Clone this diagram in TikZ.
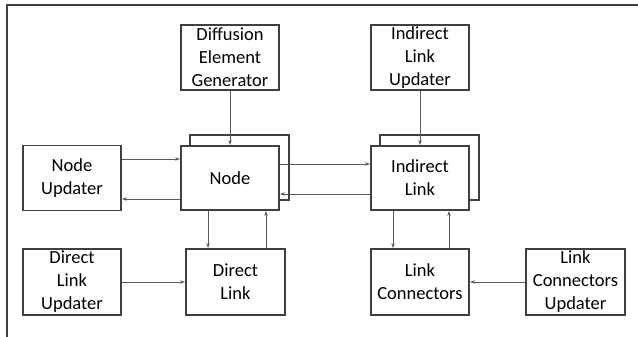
\documentclass[tikz,border=0pt]{standalone}
\usepackage{fontspec}
\setmainfont{Carlito}
\usetikzlibrary{arrows.meta}
\definecolor{boxc}{HTML}{404040}
\definecolor{arrc}{HTML}{5A5A5A}
\tikzset{
  box/.style={draw=boxc, line width=1.8pt, fill=white, minimum width=98pt, minimum height=65pt, align=center, inner sep=0pt, font=\fontsize{18.5}{23}\selectfont, text=black},
  backbox/.style={draw=boxc, line width=1.8pt, fill=white, minimum width=99pt, minimum height=65pt, inner sep=0pt},
  arr/.style={draw=arrc, line width=0.8pt, -{Stealth[length=5pt,width=3.5pt]}}
}
\begin{document}
\begin{tikzpicture}[x=1pt,y=-1pt]
\useasboundingbox (0,0) rectangle (638,337);
% frame
\draw[boxc, line width=2pt] (7,337) -- (7,5) -- (638,5);
% back boxes
\node[backbox] (ndback) at (239.5,167.5) {};
\node[backbox] (ilback) at (429.5,167.5) {};
% boxes
\node[box] (deg) at (230,57.5) {Diffusion\\Element\\Generator};
\node[box] (ilu) at (420,57.5) {Indirect\\Link\\Updater};
\node[box] (nu) at (72,178) {Node\\Updater};
\node[box, minimum height=64pt] (nd) at (230,178) {Node};
\node[box, minimum height=64pt] (il) at (420,178) {Indirect\\Link};
\node[box, minimum height=66pt] (dlu) at (72,282) {Direct\\Link\\Updater};
\node[box, minimum height=66pt, minimum width=99pt] (dl) at (235.5,282) {Direct\\Link};
\node[box, minimum height=66pt] (lc) at (420,282) {Link\\Connectors};
\node[box, minimum height=66pt, minimum width=99pt] (lcu) at (575.5,282) {Link\\Connectors\\Updater};
% arrows
\draw[arr] (deg) -- (nd);
\draw[arr] (ilu) -- (il);
\draw[arr] ([yshift=19pt]nu.east) -- ([yshift=19pt]nd.west);
\draw[arr] ([yshift=-21pt]nd.west) -- ([yshift=-21pt]nu.east);
\draw[arr] ([yshift=14pt]nd.east) -- ([yshift=14pt]il.west);
\draw[arr] ([yshift=-16pt]il.west) -- ([yshift=-16pt]nd.east);
\draw[arr] ([xshift=-22pt]nd.south) -- ([xshift=-22pt]nd.south |- dl.north);
\draw[arr] ([xshift=30.5pt]dl.north) -- ([xshift=30.5pt]dl.north |- nd.south);
\draw[arr] (dlu) -- (dl);
\draw[arr] ([xshift=-27pt]il.south) -- ([xshift=-27pt]il.south |- lc.north);
\draw[arr] ([xshift=29pt]lc.north) -- ([xshift=29pt]lc.north |- il.south);
\draw[arr] (lcu) -- (lc);
\end{tikzpicture}
\end{document}
